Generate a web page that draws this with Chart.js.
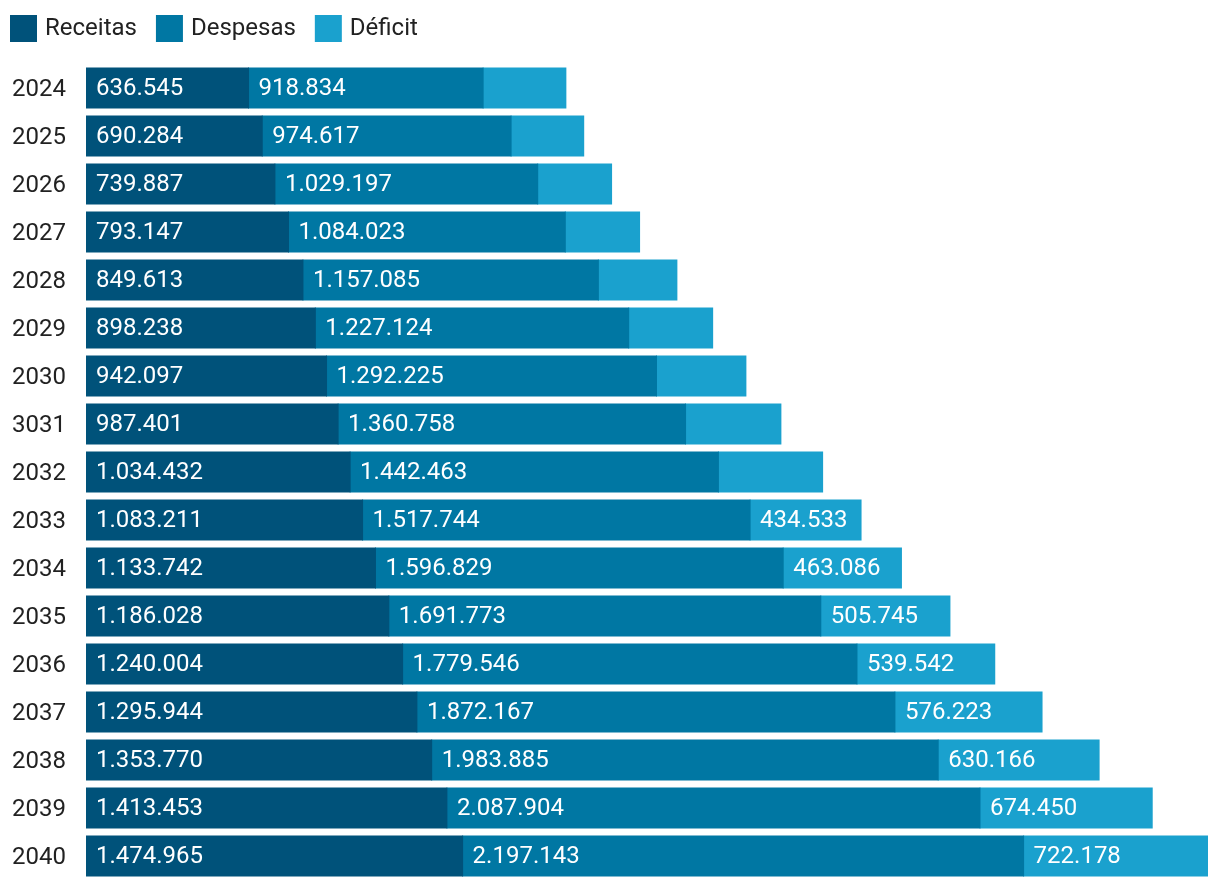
<!DOCTYPE html>
<html>
<head>
<meta charset="utf-8">
<script src="https://cdn.jsdelivr.net/npm/chart.js@4.4.1/dist/chart.umd.min.js"></script>
<style>
  html, body { margin: 0; padding: 0; background: #ffffff; }
  #wrap { width: 1220px; height: 888px; }
</style>
</head>
<body>
<div id="wrap"><canvas id="c" width="1220" height="888"></canvas></div>
<script>
const categories = ['2024','2025','2026','2027','2028','2029','2030','3031','2032','2033','2034','2035','2036','2037','2038','2039','2040'];
const receitas = [636545, 690284, 739887, 793147, 849613, 898238, 942097, 987401, 1034432, 1083211, 1133742, 1186028, 1240004, 1295944, 1353770, 1413453, 1474965];
const despesas = [918834, 974617, 1029197, 1084023, 1157085, 1227124, 1292225, 1360758, 1442463, 1517744, 1596829, 1691773, 1779546, 1872167, 1983885, 2087904, 2197143];
const deficit = [324000, 284333, 289310, 290876, 307472, 328886, 350128, 373357, 408031, 434533, 463086, 505745, 539542, 576223, 630166, 674450, 722178];
const seriesNames = ['Receitas', 'Despesas', 'Déficit'];
const seriesColors = ['#00527a', '#0077a3', '#1aa1ce'];

const FONT = 'Roboto, "Noto Sans", sans-serif';
const FS = 24;

function fmt(v) {
  return String(Math.round(v)).replace(/\B(?=(\d{3})+(?!\d))/g, '.');
}

const labelPlugin = {
  id: 'barLabels',
  afterDatasetsDraw(chart) {
    const ctx = chart.ctx;
    ctx.save();
    ctx.font = FS + 'px ' + FONT;
    ctx.fillStyle = '#ffffff';
    ctx.textAlign = 'left';
    ctx.textBaseline = 'middle';
    const pad = 10;
    chart.data.datasets.forEach((ds, di) => {
      const meta = chart.getDatasetMeta(di);
      meta.data.forEach((bar, i) => {
        const p = bar.getProps(['x', 'y', 'base'], true);
        const left = Math.min(p.x, p.base);
        const w = Math.abs(p.x - p.base);
        const txt = fmt(ds.data[i]);
        const tw = ctx.measureText(txt).width;
        if (tw + 2 * pad <= w) {
          ctx.fillText(txt, left + pad, p.y + 1);
        }
      });
    });
    ctx.restore();
  }
};

const legendPlugin = {
  id: 'topLegend',
  afterDraw(chart) {
    const ctx = chart.ctx;
    ctx.save();
    ctx.font = FS + 'px ' + FONT;
    ctx.textAlign = 'left';
    ctx.textBaseline = 'middle';
    let x = 10;
    const box = 27, yTop = 15;
    seriesNames.forEach((name, i) => {
      ctx.fillStyle = seriesColors[i];
      ctx.fillRect(x, yTop, box, box);
      ctx.fillStyle = '#222222';
      const tx = x + box + 8;
      ctx.fillText(name, tx, yTop + box / 2);
      x = tx + ctx.measureText(name).width + 19;
    });
    ctx.restore();
  }
};

const xMax = receitas[16] + despesas[16] + deficit[16];

new Chart(document.getElementById('c'), {
  type: 'bar',
  data: {
    labels: categories,
    datasets: [
      { label: seriesNames[0], data: receitas, backgroundColor: seriesColors[0] },
      { label: seriesNames[1], data: despesas, backgroundColor: seriesColors[1] },
      { label: seriesNames[2], data: deficit, backgroundColor: seriesColors[2] }
    ]
  },
  options: {
    indexAxis: 'y',
    responsive: false,
    devicePixelRatio: 1,
    animation: false,
    layout: { padding: { top: 64, right: 12, bottom: 8, left: 0 } },
    datasets: { bar: { categoryPercentage: 1, barPercentage: 40 / 48, borderWidth: 0, inflateAmount: 0.5 } },
    plugins: { legend: { display: false }, tooltip: { enabled: false } },
    scales: {
      x: { stacked: true, display: false, min: 0, max: xMax },
      y: {
        stacked: true,
        grid: { display: false, drawTicks: false },
        border: { display: false },
        ticks: { color: '#222222', font: { family: FONT, size: FS }, padding: 20, labelOffset: 2 },
        afterFit(s) { s.width = 86; s.paddingTop = 0; s.paddingBottom = 0; }
      }
    }
  },
  plugins: [labelPlugin, legendPlugin]
});
</script>
</body>
</html>
